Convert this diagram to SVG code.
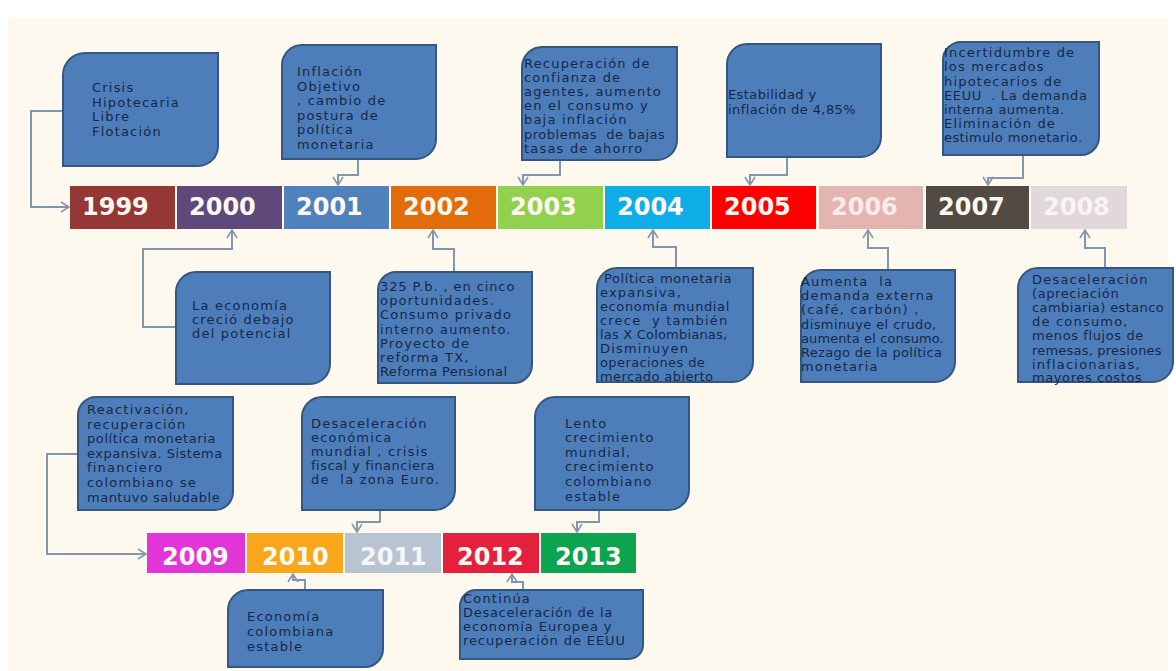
<svg xmlns="http://www.w3.org/2000/svg" width="1176" height="671" viewBox="0 0 1176 671">
<defs>
<marker id="arr" markerUnits="userSpaceOnUse" markerWidth="12" markerHeight="12" viewBox="0 0 12 12" refX="10" refY="6" orient="auto">
<path d="M2,1 L10,6 L2,11" fill="none" stroke="#8496AE" stroke-width="1.6"/>
</marker>
<style>
.box{fill:#4D7EBA;stroke:#34577F;stroke-width:2}
.t{font-family:"DejaVu Sans",Verdana,sans-serif;font-size:13px;letter-spacing:1.2px;fill:#15284A;white-space:pre}
.yr{font-family:"DejaVu Sans",Verdana,sans-serif;font-size:24px;font-weight:bold;fill:#FFF8F0}
.c{fill:none;stroke:#8496AE;stroke-width:2;marker-end:url(#arr)}
</style>
</defs>
<rect x="0" y="0" width="1176" height="671" fill="#FFFFFF"/>
<rect x="8" y="18" width="1160" height="653" fill="#FDF9EF"/>

<g id="connectors">
<path class="c" d="M63,111 H31 V207 H69"/>
<path class="c" d="M358,159 V175 H338 V185"/>
<path class="c" d="M560,160 V175 H523 V185"/>
<path class="c" d="M787,157 V175 H750 V185"/>
<path class="c" d="M1023,155 V178 H988 V185"/>
<path class="c" d="M176,327 H143 V249 H232 V230"/>
<path class="c" d="M454,272 V249 H433 V230"/>
<path class="c" d="M676,268 V247 H653 V230"/>
<path class="c" d="M888,270 V248 H868 V230"/>
<path class="c" d="M1105,268 V248 H1085 V230"/>
<path class="c" d="M78,454 H47 V554 H146"/>
<path class="c" d="M380,510 V522 H357 V532"/>
<path class="c" d="M599,510 V522 H577 V532"/>
<path class="c" d="M305,590 V580 H293 V574"/>
<path class="c" d="M523,590 V582 H512 V574"/>
</g>

<g id="timeline1">
<rect x="70" y="186" width="105" height="43" fill="#953735"/>
<text class="yr" x="82" y="215">1999</text>
<rect x="177" y="186" width="105" height="43" fill="#5F497A"/>
<text class="yr" x="189" y="215">2000</text>
<rect x="284" y="186" width="105" height="43" fill="#4F81BD"/>
<text class="yr" x="296" y="215">2001</text>
<rect x="391" y="186" width="105" height="43" fill="#E36C0A"/>
<text class="yr" x="403" y="215">2002</text>
<rect x="498" y="186" width="105" height="43" fill="#92D050"/>
<text class="yr" x="510" y="215">2003</text>
<rect x="605" y="186" width="105" height="43" fill="#0FADE8"/>
<text class="yr" x="617" y="215">2004</text>
<rect x="712" y="186" width="104" height="43" fill="#FF0000"/>
<text class="yr" x="724" y="215">2005</text>
<rect x="819" y="186" width="104" height="43" fill="#E4B5B0"/>
<text class="yr" x="831" y="215" style="fill:#F8ECEA">2006</text>
<rect x="926" y="186" width="103" height="43" fill="#514A45"/>
<text class="yr" x="938" y="215">2007</text>
<rect x="1031" y="186" width="96" height="43" fill="#E0D8DA"/>
<text class="yr" x="1043" y="215" style="fill:#F8F4F3">2008</text>
</g>

<g id="timeline2">
<rect x="147" y="533" width="98" height="40" fill="#E235D8"/>
<text class="yr" x="162" y="565">2009</text>
<rect x="247" y="533" width="96" height="40" fill="#F8A71C"/>
<text class="yr" x="262" y="565">2010</text>
<rect x="345" y="533" width="96" height="40" fill="#B8C4D2"/>
<text class="yr" x="360" y="565" style="fill:#F4F6F8">2011</text>
<rect x="443" y="533" width="96" height="40" fill="#E3213C"/>
<text class="yr" x="457" y="565">2012</text>
<rect x="541" y="533" width="95" height="40" fill="#0CA450"/>
<text class="yr" x="555" y="565">2013</text>
</g>

<g id="n1999">
<path class="box" d="M85,53 H218 V146 A20,20 0 0 1 198,166 H63 V75 A22,22 0 0 1 85,53 Z"/>
<text class="t" x="92" y="92">Crisis</text>
<text class="t" x="92" y="106.6">Hipotecaria</text>
<text class="t" x="92" y="121.2">Libre</text>
<text class="t" x="92" y="135.8">Flotación</text>
</g>

<g id="n2001">
<path class="box" d="M302,45 H436 V139 A20,20 0 0 1 416,159 H282 V65 A20,20 0 0 1 302,45 Z"/>
<text class="t" x="297" y="76">Inflación</text>
<text class="t" x="297" y="90.5">Objetivo</text>
<text class="t" x="297" y="105">, cambio de</text>
<text class="t" x="297" y="119.5">postura de</text>
<text class="t" x="297" y="134">política</text>
<text class="t" x="297" y="148.5">monetaria</text>
</g>

<g id="n2003">
<path class="box" d="M542,47 H677 V140 A20,20 0 0 1 657,160 H522 V67 A20,20 0 0 1 542,47 Z"/>
<text class="t" x="524" y="67.5">Recuperación de</text>
<text class="t" x="524" y="81.7">confianza de</text>
<text class="t" x="524" y="95.9">agentes, aumento</text>
<text class="t" x="524" y="110.1">en el consumo y</text>
<text class="t" x="524" y="124.3">baja inflación</text>
<text class="t" x="524" y="138.5" style="letter-spacing:0.5px">problemas  de bajas</text>
<text class="t" x="524" y="152.7">tasas de ahorro</text>
</g>

<g id="n2005">
<path class="box" d="M747,44 H881 V137 A20,20 0 0 1 861,157 H727 V64 A20,20 0 0 1 747,44 Z"/>
<text class="t" x="728" y="99" style="letter-spacing:0.4px">Estabilidad y</text>
<text class="t" x="728" y="113.5" style="letter-spacing:0.4px">inflación de 4,85%</text>
</g>

<g id="n2007">
<path class="box" d="M961,42 H1099 V137 A18,18 0 0 1 1081,155 H943 V60 A18,18 0 0 1 961,42 Z"/>
<text class="t" x="944" y="57.3">Incertidumbre de</text>
<text class="t" x="944" y="71.4">los mercados</text>
<text class="t" x="944" y="85.5">hipotecarios de</text>
<text class="t" x="944" y="99.6" style="letter-spacing:0.6px">EEUU  . La demanda</text>
<text class="t" x="944" y="113.7" style="letter-spacing:0.5px">interna aumenta.</text>
<text class="t" x="944" y="127.8">Eliminación de</text>
<text class="t" x="944" y="141.9" style="letter-spacing:0.4px">estimulo monetario.</text>
</g>

<g id="n2000">
<path class="box" d="M196,272 H330 V364 A20,20 0 0 1 310,384 H176 V292 A20,20 0 0 1 196,272 Z"/>
<text class="t" x="192" y="309.5">La economía</text>
<text class="t" x="192" y="323.5">creció debajo</text>
<text class="t" x="192" y="337.5">del potencial</text>
</g>

<g id="n2002">
<path class="box" d="M396,272 H532 V365 A18,18 0 0 1 514,383 H378 V290 A18,18 0 0 1 396,272 Z"/>
<text class="t" x="380" y="291" style="letter-spacing:0.9px">325 P.b. , en cinco</text>
<text class="t" x="380" y="305.2">oportunidades.</text>
<text class="t" x="380" y="319.3">Consumo privado</text>
<text class="t" x="380" y="333.5">interno aumento.</text>
<text class="t" x="380" y="347.7">Proyecto de</text>
<text class="t" x="380" y="361.8">reforma TX,</text>
<text class="t" x="380" y="376" style="letter-spacing:0.4px">Reforma Pensional</text>
</g>

<g id="n2004">
<path class="box" d="M617,268 H753 V362 A20,20 0 0 1 733,382 H597 V288 A20,20 0 0 1 617,268 Z"/>
<text class="t" x="604" y="283" style="letter-spacing:0.6px">Política monetaria</text>
<text class="t" x="600" y="297">expansiva,</text>
<text class="t" x="600" y="311" style="letter-spacing:0.6px">economía mundial</text>
<text class="t" x="600" y="325">crece  y también</text>
<text class="t" x="600" y="339" style="letter-spacing:0.2px">las X Colombianas,</text>
<text class="t" x="600" y="353">Disminuyen</text>
<text class="t" x="600" y="367" style="letter-spacing:0.4px">operaciones de</text>
<text class="t" x="600" y="381" style="letter-spacing:0.4px">mercado abierto</text>
</g>

<g id="n2006">
<path class="box" d="M821,270 H955 V362 A20,20 0 0 1 935,382 H801 V290 A20,20 0 0 1 821,270 Z"/>
<text class="t" x="801" y="286">Aumenta  la</text>
<text class="t" x="801" y="300.2">demanda externa</text>
<text class="t" x="801" y="314.4">(café, carbón) ,</text>
<text class="t" x="801" y="328.6" style="letter-spacing:0.4px">disminuye el crudo,</text>
<text class="t" x="801" y="342.8" style="letter-spacing:0.1px">aumenta el consumo.</text>
<text class="t" x="801" y="357" style="letter-spacing:0.3px">Rezago de la política</text>
<text class="t" x="801" y="371.2">monetaria</text>
</g>

<g id="n2008">
<path class="box" d="M1038,268 H1173 V362 A20,20 0 0 1 1153,382 H1018 V288 A20,20 0 0 1 1038,268 Z"/>
<text class="t" x="1032" y="284">Desaceleración</text>
<text class="t" x="1032" y="298.1" style="letter-spacing:0.6px">(apreciación</text>
<text class="t" x="1032" y="312.2" style="letter-spacing:0.4px">cambiaria) estanco</text>
<text class="t" x="1032" y="326.3">de consumo,</text>
<text class="t" x="1032" y="340.4" style="letter-spacing:0.6px">menos flujos de</text>
<text class="t" x="1032" y="354.5" style="letter-spacing:0.2px">remesas, presiones</text>
<text class="t" x="1032" y="368.6">inflacionarias,</text>
<text class="t" x="1032" y="382.3" style="letter-spacing:0.6px">mayores costos</text>
</g>

<g id="n2009">
<path class="box" d="M96,397 H233 V492 A18,18 0 0 1 215,510 H78 V415 A18,18 0 0 1 96,397 Z"/>
<text class="t" x="87" y="414">Reactivación,</text>
<text class="t" x="87" y="428.6">recuperación</text>
<text class="t" x="87" y="443.2" style="letter-spacing:0.6px">política monetaria</text>
<text class="t" x="87" y="457.8" style="letter-spacing:0.5px">expansiva. Sistema</text>
<text class="t" x="87" y="472.4">financiero</text>
<text class="t" x="87" y="487">colombiano se</text>
<text class="t" x="87" y="501.6" style="letter-spacing:0.5px">mantuvo saludable</text>
</g>

<g id="n2011">
<path class="box" d="M322,397 H455 V490 A20,20 0 0 1 435,510 H302 V417 A20,20 0 0 1 322,397 Z"/>
<text class="t" x="311" y="427.5">Desaceleración</text>
<text class="t" x="311" y="441.7">económica</text>
<text class="t" x="311" y="455.9">mundial , crisis</text>
<text class="t" x="311" y="470.1" style="letter-spacing:0.5px">fiscal y financiera</text>
<text class="t" x="311" y="484.3">de  la zona Euro.</text>
</g>

<g id="n2013">
<path class="box" d="M555,397 H689 V490 A20,20 0 0 1 669,510 H535 V417 A20,20 0 0 1 555,397 Z"/>
<text class="t" x="565" y="427.5">Lento</text>
<text class="t" x="565" y="442.1">crecimiento</text>
<text class="t" x="565" y="456.7">mundial,</text>
<text class="t" x="565" y="471.3">crecimiento</text>
<text class="t" x="565" y="485.9">colombiano</text>
<text class="t" x="565" y="500.5">estable</text>
</g>

<g id="n2010">
<path class="box" d="M248,590 H383 V649 A18,18 0 0 1 365,667 H228 V610 A20,20 0 0 1 248,590 Z"/>
<text class="t" x="247" y="621">Economía</text>
<text class="t" x="247" y="636">colombiana</text>
<text class="t" x="247" y="651">estable</text>
</g>

<g id="n2012">
<path class="box" d="M476,590 H643 V645 A14,14 0 0 1 629,659 H460 V606 A16,16 0 0 1 476,590 Z"/>
<text class="t" x="463" y="602.5">Continúa</text>
<text class="t" x="463" y="616.8" style="letter-spacing:0.7px">Desaceleración de la</text>
<text class="t" x="463" y="631.1" style="letter-spacing:0.9px">economía Europea y</text>
<text class="t" x="463" y="645.4" style="letter-spacing:0.9px">recuperación de EEUU</text>
</g>
</svg>
